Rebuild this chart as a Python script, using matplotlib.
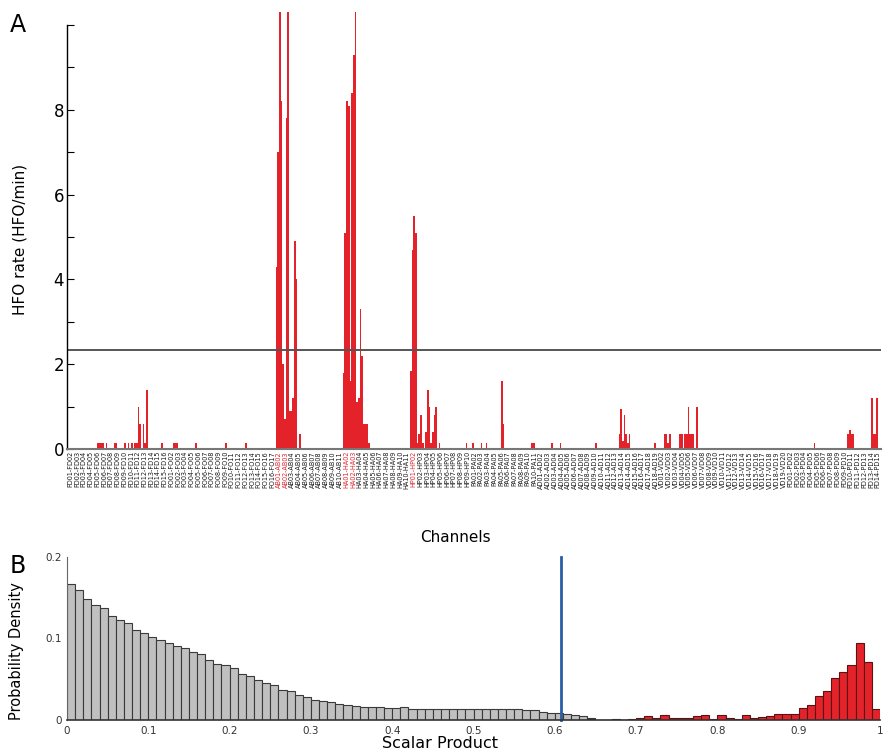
import matplotlib
matplotlib.use('Agg')
import matplotlib.pyplot as plt
import numpy as np

FIG_W = 883
FIG_H = 753
DPI = 100

# --- panel A: channel layout (electrode name, number of bipolar channels)
electrodes = ['FD', 'FO', 'AB', 'HA', 'HP', 'PA', 'AD', 'VD', 'PD']
channel_counts = [15, 16, 10, 10, 9, 10, 18, 19, 14]
red_channels = ['AB01-AB02', 'AB02-AB03', 'HA01-HA02', 'HA02-HA03', 'HP01-HP02']
hfo_threshold = 2.33

# HFO rate per channel, 4 recording segments each (channels not listed are 0)
hfo_rates = {
    'FD05-FD06': [0, 0, 0.15, 0.15],
    'FD06-FD07': [0.15, 0.15, 0, 0.15],
    'FD08-FD09': [0.15, 0.15, 0, 0],
    'FD09-FD10': [0, 0, 0.15, 0],
    'FD10-FD11': [0.15, 0, 0.15, 0],
    'FD11-FD12': [0.15, 0.15, 1.0, 0.6],
    'FD12-FD13': [0, 0.6, 0.15, 1.4],
    'FD15-FD16': [0.15, 0, 0, 0],
    'FO01-FO02': [0, 0, 0, 0.15],
    'FO02-FO03': [0.15, 0.15, 0, 0],
    'FO05-FO06': [0.15, 0, 0, 0],
    'FO09-FO10': [0, 0, 0.15, 0],
    'FO12-FO13': [0, 0, 0.15, 0],
    'AB01-AB02': [4.3, 7.0, 10.4, 8.2],
    'AB02-AB03': [2.0, 0.7, 7.8, 10.4],
    'AB03-AB04': [0.9, 0.9, 1.2, 4.9],
    'AB04-AB05': [4.0, 0, 0.35, 0],
    'HA01-HA02': [1.8, 5.1, 8.2, 8.1],
    'HA02-HA03': [1.6, 8.4, 9.3, 10.4],
    'HA03-HA04': [1.1, 1.2, 3.3, 2.2],
    'HA04-HA05': [0.6, 0.6, 0.6, 0.15],
    'HP01-HP02': [1.85, 4.7, 5.5, 5.1],
    'HP02-HP03': [0.15, 0.35, 0.8, 0.15],
    'HP03-HP04': [0, 0.4, 1.4, 1.0],
    'HP04-HP05': [0.15, 0.4, 0.8, 1.0],
    'HP05-HP06': [0, 0.15, 0, 0],
    'HP09-HP10': [0, 0.15, 0, 0],
    'PA01-PA02': [0, 0.15, 0, 0],
    'PA02-PA03': [0, 0, 0.15, 0],
    'PA03-PA04': [0, 0.15, 0, 0],
    'PA05-PA06': [0, 0, 1.6, 0.6],
    'PA10-PA11': [0.15, 0.15, 0, 0],
    'AD03-AD04': [0.15, 0, 0, 0],
    'AD04-AD05': [0, 0.15, 0, 0],
    'AD09-AD10': [0, 0, 0.15, 0],
    'AD13-AD14': [0.35, 0.95, 0.2, 0.8],
    'AD14-AD15': [0.35, 0.15, 0.35, 0],
    'AD18-AD19': [0, 0.15, 0, 0],
    'VD01-VD02': [0, 0, 0, 0.35],
    'VD02-VD03': [0.35, 0.15, 0.35, 0],
    'VD04-VD05': [0.35, 0.35, 0, 0.35],
    'VD05-VD06': [0.35, 1.0, 0.35, 0.35],
    'VD06-VD07': [0.35, 0, 1.0, 0],
    'PD05-PD06': [0.15, 0, 0, 0],
    'PD10-PD11': [0.35, 0.45, 0.35, 0.35],
    'PD13-PD14': [0, 0, 1.2, 0.35],
    'PD14-PD15': [0.35, 1.2, 0, 0],
}

# --- panel B: histograms of scalar product (bin width 0.01)
bin_width = 0.01
null_start = 0.0
null_density = [
    0.1667, 0.160, 0.149, 0.141, 0.137, 0.127, 0.123, 0.119, 0.111, 0.107,
    0.102, 0.098, 0.095, 0.091, 0.088, 0.084, 0.081, 0.074, 0.069, 0.067,
    0.064, 0.057, 0.054, 0.049, 0.046, 0.043, 0.037, 0.035, 0.031, 0.028,
    0.025, 0.023, 0.0215, 0.020, 0.018, 0.017, 0.016, 0.0155, 0.0155, 0.015,
    0.015, 0.016, 0.014, 0.014, 0.014, 0.0135, 0.0137, 0.014, 0.014, 0.0137,
    0.0135, 0.0135, 0.0135, 0.0137, 0.014, 0.0134, 0.0128, 0.0122, 0.0093, 0.0090,
    0.0081, 0.0073, 0.0065, 0.0049, 0.002,
]
hfo_start = 0.64
hfo_density = [
    0.001, 0.0003, 0.0003, 0.0015, 0.0003, 0.0015, 0.003, 0.005, 0.002, 0.0065,
    0.003, 0.003, 0.003, 0.005, 0.006, 0.0015, 0.006, 0.003, 0.001, 0.006,
    0.003, 0.004, 0.005, 0.007, 0.007, 0.007, 0.0142, 0.0187, 0.0297, 0.036,
    0.0516, 0.0585, 0.067, 0.0947, 0.071, 0.013,
]
cutoff = 0.608

RED = '#e4222a'

channels = [f'{e}{k:02d}-{e}{k + 1:02d}'
            for e, n in zip(electrodes, channel_counts) for k in range(1, n + 1)]
n_ch = len(channels)

fig = plt.figure(figsize=(FIG_W / DPI, FIG_H / DPI), dpi=DPI)

# ---------------- panel A
ax = fig.add_axes([67 / FIG_W, 304 / FIG_H, 814 / FIG_W, 436.7 / FIG_H])
n_sub = 4
xs, hs = [], []
for name, vals in hfo_rates.items():
    i = channels.index(name)
    for j, v in enumerate(vals):
        if v > 0:
            xs.append(i - 0.5 + (j + 0.5) / n_sub)
            hs.append(v)
ax.bar(xs, hs, width=1.05 / n_sub, color=RED, linewidth=0)
ax.axhline(hfo_threshold, color='#555555', lw=1.4)

ax.set_xlim(-0.5, n_ch - 0.5)
ax.set_ylim(0, 10.3)
for s in ['top', 'right']:
    ax.spines[s].set_visible(False)
ax.spines['left'].set_bounds(0, 10)
ax.spines['left'].set_linewidth(1.0)
ax.spines['bottom'].set_color('#777777')
ax.spines['bottom'].set_linewidth(1.5)

ax.set_yticks(range(11))
ax.set_yticklabels([str(v) if v % 2 == 0 and v < 10 else '' for v in range(11)])
ax.tick_params(axis='y', direction='in', length=5, labelsize=12, pad=2)

ax.set_xticks(range(n_ch))
ax.set_xticklabels(channels, rotation=90, fontsize=4.7)
ax.tick_params(axis='x', length=0, pad=1.5)
for lab in ax.get_xticklabels():
    lab.set_color(RED if lab.get_text() in red_channels else '#1a1a1a')

# ---------------- panel B
ax2 = fig.add_axes([67 / FIG_W, 33 / FIG_H, 813 / FIG_W, 163 / FIG_H])
null_left = null_start + bin_width * np.arange(len(null_density))
hfo_left = hfo_start + bin_width * np.arange(len(hfo_density))
ax2.bar(null_left, null_density, width=bin_width, align='edge',
        color='#c0c0c0', edgecolor='#3a3a3a', linewidth=0.8)
ax2.bar(hfo_left, hfo_density, width=bin_width, align='edge',
        color=RED, edgecolor='#5a1212', linewidth=0.8)
ax2.plot([cutoff, cutoff], [0, 0.2], color='#2a5ca8', lw=2, clip_on=False)

ax2.set_xlim(0, 1)
ax2.set_ylim(0, 0.2)
for s in ['top', 'right']:
    ax2.spines[s].set_visible(False)
ax2.spines['left'].set_color('#666666')
ax2.spines['bottom'].set_color('#333333')
ax2.spines['bottom'].set_linewidth(1.2)

xt = np.round(np.arange(0, 1.01, 0.1), 1)
ax2.set_xticks(xt)
ax2.set_xticklabels(['0'] + [f'{v:.1f}' for v in xt[1:-1]] + ['1'])
ax2.set_yticks([0, 0.1, 0.2])
ax2.set_yticklabels(['0', '0.1', '0.2'])
ax2.tick_params(length=0, labelsize=7.5, labelcolor='#333333', pad=4)

# ---------------- labels
fig.text(18 / FIG_W, 1 - 25 / FIG_H, 'A', fontsize=17, ha='center', va='center')
fig.text(18 / FIG_W, 1 - 566 / FIG_H, 'B', fontsize=17, ha='center', va='center')
fig.text(20 / FIG_W, 1 - 239 / FIG_H, 'HFO rate (HFO/min)', rotation=90,
         fontsize=11, ha='center', va='center')
fig.text(455 / FIG_W, 1 - 537 / FIG_H, 'Channels', fontsize=11, ha='center', va='center')
fig.text(17 / FIG_W, 1 - 651 / FIG_H, 'Probability Density', rotation=90,
         fontsize=10.5, ha='center', va='center')
fig.text(440 / FIG_W, 1 - 743 / FIG_H, 'Scalar Product', fontsize=11.5,
         ha='center', va='center')

fig.savefig('out.png', dpi=DPI)
